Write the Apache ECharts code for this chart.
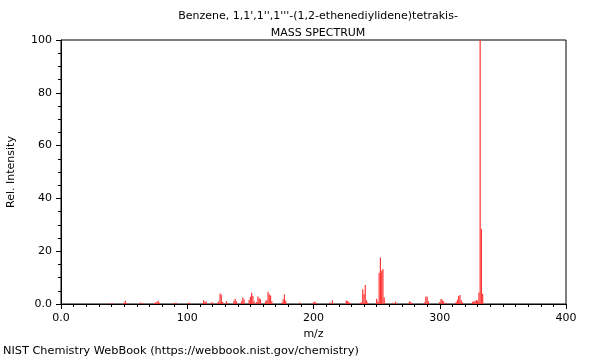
<!DOCTYPE html>
<html>
<head>
<meta charset="utf-8">
<script src="https://cdn.jsdelivr.net/npm/echarts@6/dist/echarts.min.js"></script>
<style>html,body{margin:0;padding:0;background:#fff}#c{width:600px;height:360px}</style>
</head>
<body>
<div id="c"></div>
<script>
var titleLine1 = "Benzene, 1,1',1'',1'''-(1,2-ethenediylidene)tetrakis-";
var titleLine2 = "MASS SPECTRUM";
var xTicks = [0, 100, 200, 300, 400];
var yTicks = [0, 20, 40, 60, 80, 100];
var mz = [39,41,50,51,52,63,65,74,75,76,77,78,89,91,101,102,113,114,115,119,120,124,125,126,127,128,131,132,137,138,139,143,144,145,149,150,151,152,153,155,156,157,158,162,163,164,165,166,167,175,176,177,178,189,200,201,202,213,215,226,227,228,229,237,238,239,240,241,242,243,250,251,252,253,254,255,256,263,265,276,277,278,288,289,290,291,300,301,302,303,305,313,314,315,316,317,318,326,327,328,329,330,331,332,333,334];
var intensity = [0.4,0.3,0.5,1.2,0.4,0.6,0.3,0.4,0.6,0.8,1.2,0.5,0.4,0.6,0.5,0.4,1.4,0.8,0.9,0.5,0.6,0.5,1.0,4.0,3.5,0.8,1.0,0.4,1.2,2.0,1.0,1.0,2.5,1.7,1.5,2.7,4.3,3.0,1.0,0.8,2.8,2.2,1.8,1.0,1.5,4.6,3.7,3.2,1.0,0.6,1.8,3.6,1.2,0.6,0.6,0.9,0.5,0.6,1.4,1.3,1.1,0.8,0.4,0.5,0.6,5.6,3.8,7.2,1.4,0.5,2.0,0.9,11.7,17.6,12.6,13.3,2.5,0.5,0.9,1.0,0.7,0.4,0.6,2.8,2.7,1.0,0.8,1.9,1.6,1.0,0.5,0.8,1.6,3.0,3.4,1.5,0.6,0.8,1.0,1.0,1.5,1.2,4.4,100,28.5,3.9];

var data = mz.map(function (m, i) { return [m, intensity[i]]; });
var font = 'DejaVu Sans';
function fmt(v) { return v === 0 ? '0.0' : String(v); }

var chart = echarts.init(document.getElementById('c'), null, {renderer: 'canvas'});
chart.setOption({
  animation: false,
  backgroundColor: '#fff',
  title: [
    {text: titleLine1, left: 313, top: 6, textAlign: 'center',
     textStyle: {fontFamily: font, fontSize: 11, fontWeight: 'normal', color: '#000'}},
    {text: titleLine2, left: 313, top: 23, textAlign: 'center',
     textStyle: {fontFamily: font, fontSize: 11, fontWeight: 'normal', color: '#000'}}
  ],
  grid: {left: 61, right: 34, top: 40, bottom: 56, containLabel: false, outerBoundsMode: 'none',
         show: true, borderColor: '#000', borderWidth: 1, backgroundColor: 'transparent'},
  xAxis: {
    type: 'value', min: xTicks[0], max: xTicks[xTicks.length - 1], interval: 100,
    name: 'm/z', nameLocation: 'middle', nameGap: 25,
    nameTextStyle: {fontFamily: font, fontSize: 11, color: '#000'},
    axisLine: {show: true, lineStyle: {color: '#000', width: 1}},
    axisTick: {show: true, length: 5, lineStyle: {color: '#000'}},
    minorTick: {show: true, splitNumber: 10, length: 3, lineStyle: {color: '#000'}},
    axisLabel: {fontFamily: font, fontSize: 11, color: '#000', margin: 9, formatter: fmt},
    splitLine: {show: false}
  },
  yAxis: {
    type: 'value', min: yTicks[0], max: yTicks[yTicks.length - 1], interval: 20,
    name: 'Rel. Intensity', nameLocation: 'middle', nameGap: 44,
    nameTextStyle: {fontFamily: font, fontSize: 11, color: '#000'},
    axisLine: {show: true, lineStyle: {color: '#000', width: 1}},
    axisTick: {show: true, length: 5, lineStyle: {color: '#000'}},
    minorTick: {show: true, splitNumber: 4, length: 3, lineStyle: {color: '#000'}},
    axisLabel: {fontFamily: font, fontSize: 11, color: '#000', margin: 9, formatter: fmt},
    splitLine: {show: false}
  },
  series: [{
    type: 'bar', data: data, barWidth: 1.2,
    itemStyle: {color: '#ff3636'},
    silent: true
  }],
  graphic: [{
    type: 'text', left: 3, top: 346,
    style: {text: 'NIST Chemistry WebBook (https://webbook.nist.gov/chemistry)', font: '11.3px "DejaVu Sans"', fill: '#000'}
  }]
});
</script>
</body>
</html>
